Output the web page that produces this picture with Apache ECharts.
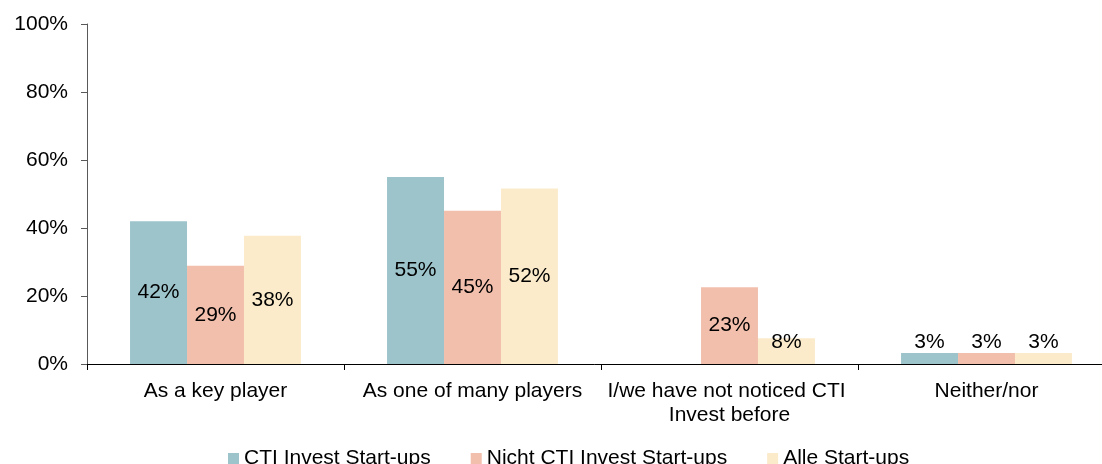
<!DOCTYPE html>
<html>
<head>
<meta charset="utf-8">
<script src="https://cdn.jsdelivr.net/npm/echarts@6/dist/echarts.min.js"></script>
<style>
  html, body { margin: 0; padding: 0; background: #fff; }
  #chart { width: 1102px; height: 464px; }
</style>
</head>
<body>
<div id="chart"></div>
<script>
// data
const categories = ['As a key player', 'As one of many players', 'I/we have not noticed CTI Invest before', 'Neither/nor'];
const seriesNames = ['CTI Invest Start-ups', 'Nicht CTI Invest Start-ups', 'Alle Start-ups'];
const ctiValues = [42, 55, null, 3.2];
const nichtCtiValues = [28.9, 45.1, 22.6, 3.2];
const alleValues = [37.7, 51.6, 7.6, 3.2];
const yTicks = [0, 20, 40, 60, 80, 100];

const colors = ['#9dc3cb', '#f2bfad', '#fbebcb'];
const font = "'Liberation Sans', Arial, sans-serif";

const chart = echarts.init(document.getElementById('chart'));

// small bars get their label just above the bar
function toItems(values) {
    return values.map(function (v) {
        if (v == null) return null;
        if (v < 10) {
            return { value: v, label: { position: 'insideBottom', distance: 11 } };
        }
        return v;
    });
}

function makeSeries(name, values, color) {
    return {
        name: name,
        type: 'bar',
        barGap: 0,
        barCategoryGap: '33.5%',
        itemStyle: { color: color },
        label: {
            show: true,
            position: 'inside',
            color: '#000',
            fontSize: 21,
            fontFamily: font,
            formatter: function (p) { return Math.round(p.value) + '%'; }
        },
        data: toItems(values)
    };
}

const option = {
    animation: false,
    textStyle: { fontFamily: font },
    // plot runs a little past the right edge of the picture
    grid: { left: 87, width: 1028, top: 24, bottom: 100, outerBoundsMode: 'none', containLabel: false },
    legend: {
        data: seriesNames,
        left: 223,
        top: 443,
        icon: 'rect',
        itemWidth: 11,
        itemHeight: 11,
        itemGap: 40,
        textStyle: { fontSize: 21, color: '#000', fontFamily: font }
    },
    xAxis: {
        type: 'category',
        data: categories,
        axisLine: { lineStyle: { color: '#000', width: 1 } },
        axisTick: { show: true, length: 6, lineStyle: { color: '#000' } },
        axisLabel: {
            interval: 0,
            margin: 15,
            color: '#000',
            fontSize: 21,
            lineHeight: 24,
            fontFamily: font,
            width: 250,
            overflow: 'break'
        }
    },
    yAxis: {
        type: 'value',
        min: yTicks[0],
        max: yTicks[yTicks.length - 1],
        interval: yTicks[1] - yTicks[0],
        axisLine: { show: true, lineStyle: { color: '#595959' } },
        axisTick: { show: true, length: 6, lineStyle: { color: '#595959' } },
        splitLine: { show: false },
        axisLabel: {
            margin: 19,
            color: '#000',
            fontSize: 21,
            fontFamily: font,
            formatter: '{value}%'
        }
    },
    series: [
        makeSeries(seriesNames[0], ctiValues, colors[0]),
        makeSeries(seriesNames[1], nichtCtiValues, colors[1]),
        makeSeries(seriesNames[2], alleValues, colors[2])
    ]
};

chart.setOption(option);
</script>
</body>
</html>
